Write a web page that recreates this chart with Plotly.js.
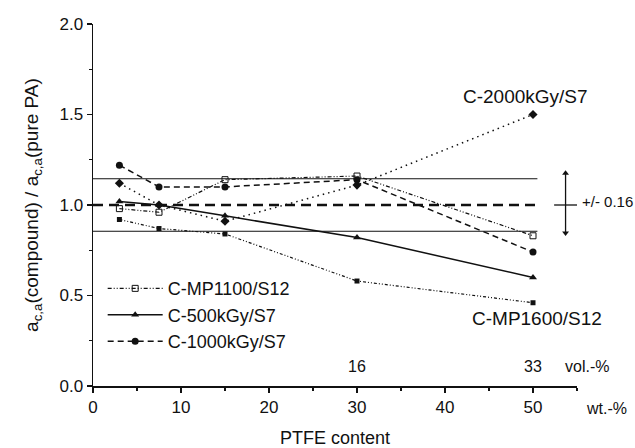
<!DOCTYPE html>
<html>
<head>
<meta charset="utf-8">
<script src="https://cdn.plot.ly/plotly-3.0.1.min.js"></script>
<style>html,body{margin:0;padding:0;background:#fff;}#chart{width:635px;height:448px;}</style>
</head>
<body>
<div id="chart"></div>
<script>
// PTFE content (wt.-%)
const wt = [3, 7.5, 15, 30, 50];
// a_c,a(compound) / a_c,a(pure PA)
const mp1100 = [0.98, 0.96, 1.14, 1.16, 0.83];
const kgy500 = [1.02, 1.00, 0.94, 0.82, 0.60];
const kgy1000 = [1.22, 1.10, 1.10, 1.14, 0.74];
const kgy2000 = [1.12, 1.00, 0.91, 1.11, 1.50];
const mp1600 = [0.92, 0.87, 0.84, 0.58, 0.46];
// reference band
const refX = [0, 50.5];
const refMean = 1.0;
const refUpper = 1.145;
const refLower = 0.855;
const bandLabel = "+/- 0.16";
// error-bar glyph (x position and arrow tips)
const barX = 53.7;
const barTips = [1.175, 0.845];
// volume-% marks
const volX = [30, 50];
const volLabels = ["16", "33"];

const ink = "#111";
const F = "Liberation Sans, Arial, sans-serif";

const traces = [
  {x: refX, y: [refUpper, refUpper], mode: "lines", line: {color: ink, width: 1}, showlegend: false, hoverinfo: "skip"},
  {x: refX, y: [refLower, refLower], mode: "lines", line: {color: ink, width: 1}, showlegend: false, hoverinfo: "skip"},
  {x: refX, y: [refMean, refMean], mode: "lines", line: {color: ink, width: 2.5, dash: "10px,6px"}, showlegend: false, hoverinfo: "skip"},
  {x: [barX, barX], y: barTips, mode: "lines+markers", showlegend: false, hoverinfo: "skip",
   line: {color: ink, width: 1.3},
   marker: {symbol: ["triangle-up", "triangle-down"], size: 6, color: ink}},
  {x: wt, y: mp1100, name: "C-MP1100/S12", mode: "lines+markers",
   line: {color: ink, width: 1.2, dash: "4px,2px,1px,2px,1px,2px"},
   marker: {symbol: "square-open", size: 6, color: ink, line: {width: 1, color: ink}}},
  {x: wt, y: kgy500, name: "C-500kGy/S7", mode: "lines+markers",
   line: {color: ink, width: 1.5},
   marker: {symbol: "triangle-up", size: 7, color: ink}},
  {x: wt, y: kgy1000, name: "C-1000kGy/S7", mode: "lines+markers",
   line: {color: ink, width: 1.5, dash: "6px,4px"},
   marker: {symbol: "circle", size: 7, color: ink}},
  {x: wt, y: kgy2000, name: "C-2000kGy/S7", mode: "lines+markers", showlegend: false,
   line: {color: ink, width: 1.5, dash: "1.5px,4px"},
   marker: {symbol: "diamond", size: 7, color: ink}},
  {x: wt, y: mp1600, name: "C-MP1600/S12", mode: "lines+markers", showlegend: false,
   line: {color: ink, width: 1.2, dash: "3px,2px,1px,2px,1px,2px"},
   marker: {symbol: "square", size: 5, color: ink}}
];

const shapes = [
  {type: "line", xref: "x", yref: "y", x0: barX - 1.3, x1: barX + 1.3, y0: refMean, y1: refMean, line: {color: ink, width: 1.3}}
];

const annotations = [
  {x: 49.2, y: 1.6, xref: "x", yref: "y", text: "C-2000kGy/S7", showarrow: false, font: {family: F, size: 19, color: ink}},
  {x: 50.5, y: 0.374, xref: "x", yref: "y", text: "C-MP1600/S12", showarrow: false, font: {family: F, size: 19, color: ink}},
  {x: 1.007, y: 1.02, xref: "paper", yref: "y", xanchor: "left", yanchor: "middle", text: bandLabel, showarrow: false, font: {family: F, size: 15, color: ink}},
  {x: 1.06, y: -0.061, xref: "paper", yref: "paper", xanchor: "center", yanchor: "middle", text: "wt.-%", showarrow: false, font: {family: F, size: 16, color: ink}},
  {x: 1.02, y: 0.11, xref: "paper", yref: "y", xanchor: "center", yanchor: "middle", text: "vol.-%", showarrow: false, font: {family: F, size: 16, color: ink}}
];
volX.forEach((v, i) => annotations.push({x: v, y: 0.11, xref: "x", yref: "y", yanchor: "middle", text: volLabels[i], showarrow: false, font: {family: F, size: 16, color: ink}}));

const layout = {
  width: 635, height: 448,
  margin: {l: 93, r: 58, t: 24, b: 62},
  paper_bgcolor: "#fff", plot_bgcolor: "#fff",
  font: {family: F, color: ink},
  showlegend: true,
  legend: {x: 0.02, y: 0.32, xanchor: "left", yanchor: "top", bgcolor: "rgba(0,0,0,0)",
    font: {family: F, size: 18, color: ink}, itemwidth: 55, tracegroupgap: 0},
  xaxis: {range: [0, 55], showgrid: false, zeroline: false, showline: true, linecolor: ink, linewidth: 1.5,
    ticks: "outside", ticklen: 5, tickwidth: 1.3, tickcolor: ink, tickvals: [0, 10, 20, 30, 40, 50],
    minor: {dtick: 5, ticks: "outside", ticklen: 3, tickcolor: ink},
    tickfont: {family: F, size: 17, color: ink},
    title: {text: "PTFE content", font: {family: F, size: 18, color: ink}, standoff: 18}},
  yaxis: {range: [0, 2], showgrid: false, zeroline: false, showline: true, linecolor: ink, linewidth: 1.5,
    ticks: "outside", ticklen: 5, tickwidth: 1.3, tickcolor: ink, dtick: 0.5, tickformat: ".1f",
    minor: {dtick: 0.25, ticks: "outside", ticklen: 3, tickcolor: ink},
    tickfont: {family: F, size: 17, color: ink},
    title: {text: "a<sub>c,a</sub>(compound) / a<sub>c,a</sub>(pure PA)", font: {family: F, size: 19, color: ink}, standoff: 16}},
  shapes: shapes,
  annotations: annotations
};

Plotly.newPlot("chart", traces, layout, {displayModeBar: false, staticPlot: true});
</script>
</body>
</html>
